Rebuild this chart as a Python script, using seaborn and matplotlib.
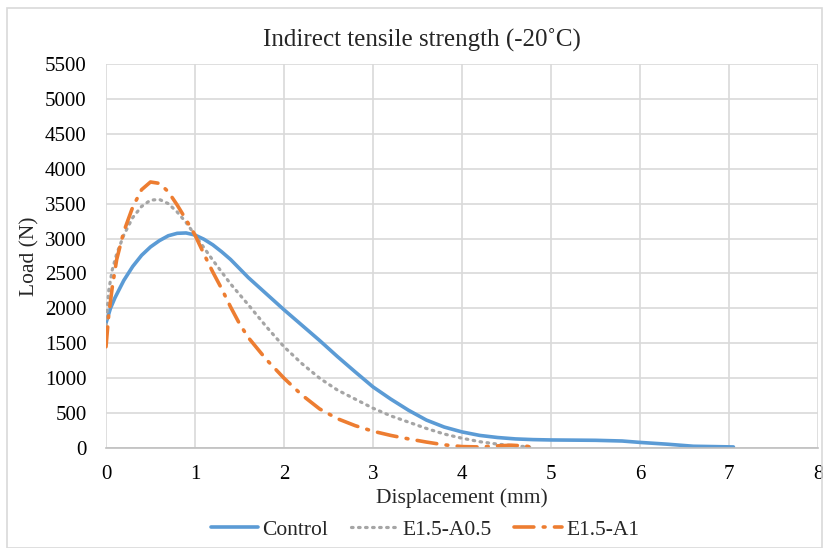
import matplotlib
matplotlib.use("Agg")
import matplotlib.pyplot as plt
import seaborn as sns
import pandas as pd
from matplotlib.patches import Rectangle

# Data
control_x = [0.0, 0.05, 0.1, 0.2, 0.3, 0.4, 0.5, 0.6, 0.7, 0.8, 0.9, 1.0, 1.1, 1.2, 1.3, 1.4, 1.5, 1.6, 1.8,
             2.0, 2.2, 2.4, 2.6, 2.8, 3.0, 3.2, 3.4, 3.6, 3.8, 4.0, 4.2, 4.4, 4.6, 4.8, 5.0, 5.5, 5.8, 6.0,
             6.3, 6.6, 7.05]
control_y = [1790, 2000, 2150, 2400, 2600, 2760, 2880, 2970, 3040, 3075, 3080, 3050, 2990, 2910, 2810, 2700,
             2570, 2440, 2210, 1980, 1760, 1540, 1310, 1090, 875, 700, 540, 400, 300, 230, 180, 150, 130,
             120, 115, 110, 100, 80, 55, 25, 15]

a05_x = [0.0, 0.03, 0.07, 0.12, 0.2, 0.3, 0.4, 0.5, 0.6, 0.7, 0.8, 0.9, 1.0, 1.1, 1.2, 1.4, 1.6, 1.8, 2.0,
         2.2, 2.4, 2.6, 2.8, 3.0, 3.2, 3.4, 3.6, 3.8, 4.0, 4.2, 4.4, 4.6, 4.76]
a05_y = [1750, 2250, 2550, 2780, 3050, 3300, 3460, 3550, 3560, 3500, 3380, 3230, 3050, 2870, 2690, 2350,
         2050, 1740, 1450, 1210, 1000, 830, 700, 570, 460, 370, 280, 200, 140, 90, 55, 30, 15]

a1_x = [0.0, 0.03, 0.07, 0.12, 0.2, 0.3, 0.4, 0.5, 0.6, 0.7, 0.8, 0.9, 1.0, 1.1, 1.2, 1.3, 1.4, 1.5, 1.6,
        1.8, 2.0, 2.2, 2.4, 2.6, 2.8, 3.0, 3.2, 3.4, 3.6, 3.8, 4.0, 4.2, 4.4, 4.55, 4.7, 4.8]
a1_y = [1450, 1900, 2300, 2700, 3100, 3450, 3700, 3810, 3790, 3670, 3480, 3270, 3050, 2780, 2520, 2280,
        2020, 1780, 1580, 1270, 1000, 760, 560, 420, 320, 240, 180, 130, 85, 45, 20, 15, 30, 40, 30, 10]

series_names = ["Control", "E1.5-A0.5", "E1.5-A1"]
x_ticks = [0, 1, 2, 3, 4, 5, 6, 7, 8]
y_ticks = list(range(0, 5501, 500))

frames = []
for name, xs, ys in zip(series_names, [control_x, a05_x, a1_x], [control_y, a05_y, a1_y]):
    frames.append(pd.DataFrame({"Displacement": xs, "Load": ys, "Series": name}))
df = pd.concat(frames, ignore_index=True)

sns.set_style("white")
plt.rcParams["font.family"] = ["Liberation Serif", "DejaVu Serif"]

fig = plt.figure(figsize=(8.23, 5.48), dpi=100)
ax = fig.add_axes([0.1288, 0.1825, 0.8651, 0.7007])

colors = {"Control": "#5B9BD5", "E1.5-A0.5": "#A5A5A5", "E1.5-A1": "#ED7D31"}
styles = {
    "Control": dict(linestyle="-", linewidth=2.6),
    "E1.5-A0.5": dict(linestyle=(0, (0.5, 1.7)), linewidth=2.3, dash_capstyle="round"),
    "E1.5-A1": dict(linestyle=(0, (5.5, 2.6, 0.5, 2.6)), linewidth=2.6, dash_capstyle="round"),
}
for name in series_names:
    sub = df[df["Series"] == name]
    sns.lineplot(data=sub, x="Displacement", y="Load", ax=ax, color=colors[name],
                 label=name, sort=False, estimator=None, **styles[name])

ax.set_xlim(0, 8)
ax.set_ylim(0, 5500)
ax.set_xticks(x_ticks)
ax.set_yticks(y_ticks)
ax.set_xticklabels([str(t) for t in x_ticks])
ax.set_yticklabels([str(t) for t in y_ticks])
ax.grid(True, color="#D9D9D9", linewidth=1.2)
ax.set_axisbelow(True)
for s in ["top", "right", "left"]:
    ax.spines[s].set_visible(False)
ax.spines["bottom"].set_color("#BFBFBF")
ax.spines["bottom"].set_linewidth(1.2)
ax.tick_params(axis="y", length=0, labelsize=15, colors="#000000", pad=14)
ax.tick_params(axis="x", length=0, labelsize=15, colors="#000000", pad=12)

ax.set_xlabel("Displacement (mm)", fontsize=15.5)
ax.set_ylabel("Load (N)", fontsize=15.5)
ax.xaxis.set_label_coords(0.5, -0.105)
ax.yaxis.set_label_coords(-0.094, 0.5)
fig.text(0.513, 0.927, "Indirect tensile strength (-20˚C)", ha="center", va="center", fontsize=18)

leg = ax.legend(loc="center", bbox_to_anchor=(0.448, -0.213), ncol=3, frameon=False,
                fontsize=15.5, handlelength=2.2, columnspacing=1.05, handletextpad=0.2)

fig.patches.append(Rectangle((0.008, 0.0), 0.991, 0.985, transform=fig.transFigure,
                             fill=False, edgecolor="#D9D9D9", linewidth=1.2))

fig.savefig("out.png", dpi=100)
